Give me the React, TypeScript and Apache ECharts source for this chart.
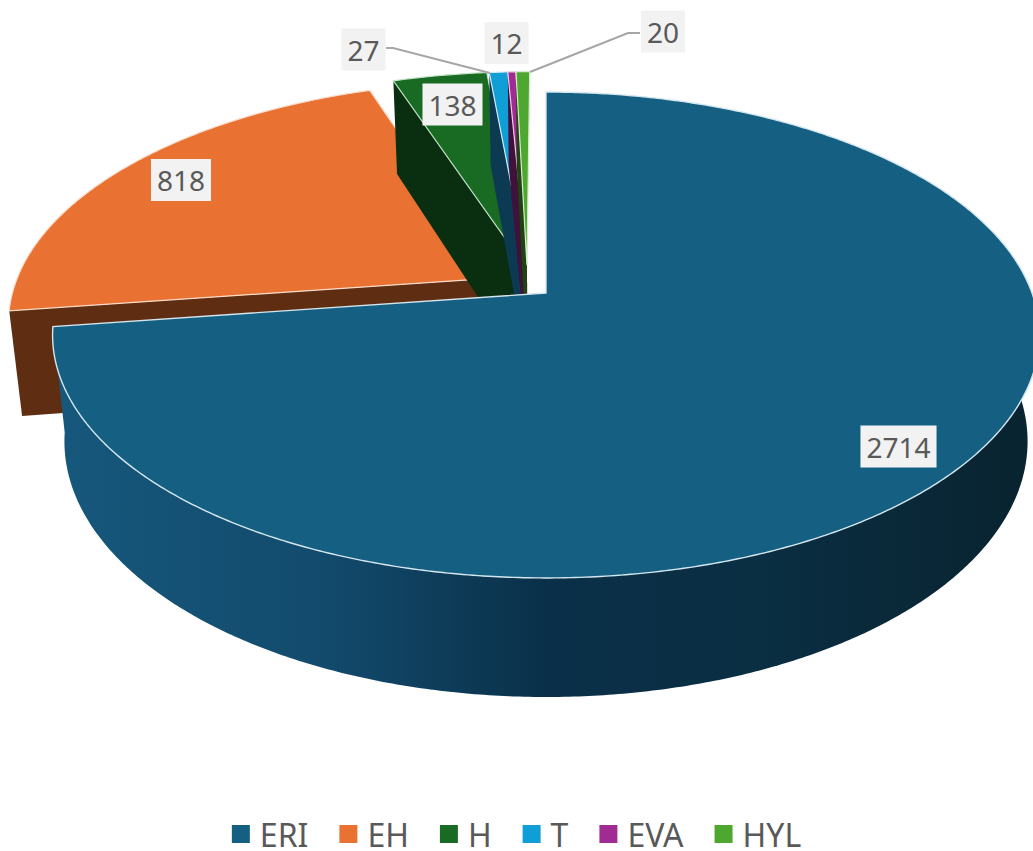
import React, { useEffect, useRef } from "react";
import * as echarts from "echarts";

const categories = ["ERI", "EH", "H", "T", "EVA", "HYL"];
const values = [2714, 818, 138, 27, 12, 20];

const colors = ["#156082", "#E97132", "#196B24", "#0F9ED5", "#A02B93", "#4EA72E"];
const wallColors = ["#0c3a50", "#5F2E12", "#0A2F10", "#0b3a52", "#40113a", "#1f4312"];
const outlineColors = ["#d4e6ee", "#fbdcc8", "#c5e3c9", "#d0ecf7", "#eccde8", "#d5eccb"];

// pie projection (world circle of radius 1 -> screen)
const CX = 546;
const AY = 293;
const RX = 486;
const RY = 235.7;
const K = 0.1728;
// exploded offsets in world units, per slice
const OFFSETS: [number, number][] = [
  [0, 0],
  [-0.1, 0.0645],
  [-0.046, 0.1207],
  [-0.04, 0.1207],
  [-0.04, 0.1207],
  [-0.04, 0.1207],
];
const Z_ORDER = [6, 1, 2, 3, 4, 5];
const LABEL_POS: [number, number][] = [
  [898.5, 446.5],
  [181, 180],
  [452.5, 104.5],
  [363.5, 49.5],
  [506.5, 43],
  [663, 31.5],
];
const LEADERS: ([number, number][] | null)[] = [
  null,
  null,
  null,
  [[386, 48], [393, 48], [490, 73]],
  null,
  [[640, 33], [628, 33], [530, 72]],
];

const total = values.reduce((a, b) => a + b, 0);
const project = (u: number, v: number): [number, number] => {
  const d = 1 + K * v;
  return [CX + (RX * u) / d, AY - (RY * v) / d];
};
const lower = (p: [number, number]): [number, number] => [
  CX + (p[0] - CX) * 0.976,
  p[1] + 105 + (p[1] - 308) * 0.052,
];
const rim = (deg: number, off: [number, number]): [number, number] => {
  const a = (deg * Math.PI) / 180;
  return project(Math.sin(a) + off[0], Math.cos(a) + off[1]);
};
const arc = (from: number, to: number, off: [number, number]) => {
  const pts: [number, number][] = [];
  const n = Math.max(2, Math.ceil(Math.abs(to - from) * 2));
  for (let i = 0; i <= n; i++) pts.push(rim(from + ((to - from) * i) / n, off));
  return pts;
};

const renderSlice = (idx: number) => (_params: any, api: any) => {
  const before = values.slice(0, idx).reduce((a, b) => a + b, 0);
  const start = (before / total) * 360;
  const end = start + (api.value(0) / total) * 360;
  const off = OFFSETS[idx];
  const apex = project(off[0], off[1]);
  const z = Z_ORDER[idx];
  const children: any[] = [];

  if (idx === 0) {
    const top = arc(62, end, off);
    const bottom = top.map(lower).reverse();
    children.push({
      type: "polygon",
      z2: z,
      shape: { points: [...top, ...bottom] },
      style: {
        fill: new echarts.graphic.LinearGradient(0, 0, 1, 0, [
          { offset: 0, color: "#16587c" },
          { offset: 0.28, color: "#124a6c" },
          { offset: 0.5, color: "#0a3049" },
          { offset: 0.72, color: "#0a2e42" },
          { offset: 1, color: "#09232f" },
        ]),
      },
    });
  } else {
    const edge = rim(start, off);
    children.push({
      type: "polygon",
      z2: z,
      shape: { points: [apex, edge, lower(edge), lower(apex)] },
      style: { fill: wallColors[idx] },
    });
  }
  children.push({
    type: "polygon",
    z2: z,
    shape: { points: [apex, ...arc(start, end, off)] },
    style: { fill: colors[idx], stroke: outlineColors[idx], lineWidth: idx === 0 ? 1.4 : 1.2 },
  });

  const leader = LEADERS[idx];
  if (leader) {
    children.push({
      type: "polyline",
      z2: 90,
      shape: { points: leader },
      style: { fill: "none", stroke: "#a6a6a6", lineWidth: 2 },
    });
  }
  children.push({
    type: "text",
    z2: 100,
    x: LABEL_POS[idx][0],
    y: LABEL_POS[idx][1],
    style: {
      text: String(api.value(0)),
      fill: "#595959",
      fontSize: 28,
      fontFamily: "Noto Sans",
      align: "center",
      verticalAlign: "middle",
      backgroundColor: "#f2f2f2",
      padding: [7, 6, 7, 6],
    },
  });
  return { type: "group", children };
};

export default function App() {
  const ref = useRef<HTMLDivElement>(null);
  useEffect(() => {
    document.body.style.margin = "0";
    document.body.style.overflow = "hidden";
    const chart = echarts.init(ref.current!, null, { renderer: "svg" });
    chart.setOption({
      animation: false,
      backgroundColor: "#ffffff",
      legend: {
        show: true,
        bottom: 0,
        left: "center",
        top: 813,
        icon: "rect",
        itemWidth: 18,
        itemHeight: 18,
        itemGap: 31,
        data: categories,
        textStyle: {
          fontFamily: "Noto Sans",
          fontSize: 32,
          color: "#595959",
          padding: [0, 0, 0, 5],
        },
      },
      series: categories.map((name, idx) => ({
        type: "custom",
        name,
        coordinateSystem: "none",
        itemStyle: { color: colors[idx] },
        data: [[values[idx]]],
        renderItem: renderSlice(idx),
      })),
    });
    return () => chart.dispose();
  }, []);
  return <div ref={ref} style={{ position: "absolute", left: 0, top: 0, width: 1033, height: 851 }} />;
}
